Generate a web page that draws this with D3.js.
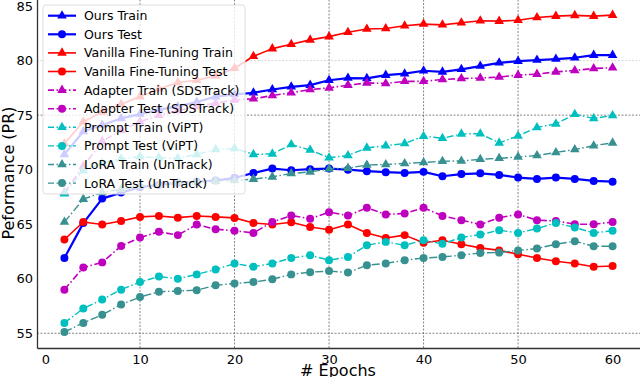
<!DOCTYPE html>
<html>
<head>
<meta charset="utf-8">
<script src="https://cdn.jsdelivr.net/npm/d3@7"></script>
<style>
html,body{margin:0;padding:0;background:#fff;}
svg{display:block;font-family:"DejaVu Sans",sans-serif;}
</style>
</head>
<body>
<svg id="chart" width="640" height="377"></svg>
<script>
const epochs = [2,4,6,8,10,12,14,16,18,20,22,24,26,28,30,32,34,36,38,40,42,44,46,48,50,52,54,56,58,60];
const oursTrain = [71.4,73.5,74.1,74.7,75.1,75.5,75.8,76.2,76.7,76.9,77.05,77.35,77.6,77.75,78.2,78.4,78.37,78.67,78.8,79.07,78.97,79.2,79.5,79.8,79.95,80.05,80.14,80.26,80.5,80.5];
const oursTest = [61.9,65.1,67.35,67.9,68.4,68.6,68.8,68.9,69.0,69.25,69.7,70.1,69.95,70.05,70.1,70.0,69.86,69.77,69.7,69.8,69.4,69.6,69.67,69.52,69.28,69.15,69.28,69.15,68.97,68.9];
const vanillaTrain = [72.4,74.4,75.3,76.0,76.7,77.4,78.0,78.2,78.6,79.3,80.4,81.1,81.5,81.9,82.2,82.6,82.9,82.95,83.2,83.35,83.28,83.47,83.65,83.62,83.7,83.96,84.08,84.15,84.08,84.17];
const vanillaTest = [63.6,65.2,64.97,65.3,65.67,65.76,65.6,65.76,65.67,65.58,65.12,64.97,65.18,64.75,64.5,64.97,64.2,63.74,64.0,63.3,63.53,63.17,62.83,62.6,62.25,61.9,61.6,61.4,61.1,61.17];
const adapterTrain = [67.9,70.3,72.6,73.6,74.4,75.0,75.4,75.8,76.1,76.4,76.5,76.8,77.05,77.35,77.5,77.75,77.96,77.9,78.1,78.1,78.27,78.36,78.4,78.5,78.67,78.76,78.97,79.1,79.28,79.34];
const adapterTest = [59.0,61.03,61.5,63.0,63.78,64.3,64.0,64.97,64.54,64.4,64.2,65.2,65.8,65.5,66.1,65.8,66.5,65.9,65.98,66.5,65.76,65.37,64.97,65.6,65.9,65.37,65.3,65.0,65.0,65.2];
const promptTrain = [67.8,69.9,70.6,71.0,71.2,71.1,71.05,71.4,71.85,71.95,71.4,71.45,72.3,71.8,71.1,71.3,72.0,72.2,72.4,73.07,72.88,73.28,73.3,72.46,73.1,73.87,74.2,75.08,74.7,74.97];
const promptTest = [55.95,57.27,58.1,59.0,59.7,60.2,60.0,60.4,60.84,61.4,61.1,61.4,61.9,62.16,61.7,62.0,63.07,63.38,63.07,63.53,63.2,63.78,64.05,64.45,64.2,64.6,65.12,64.7,64.2,64.4];
const loraTrain = [65.2,67.3,67.9,68.2,68.5,68.6,68.8,68.9,68.95,69.0,69.13,69.34,69.65,69.8,70.07,70.14,70.43,70.48,70.57,70.66,70.78,70.8,70.95,71.04,71.17,71.3,71.58,71.85,72.2,72.46];
const loraTest = [55.12,55.95,56.7,57.63,58.33,58.8,58.88,58.95,59.4,59.56,59.7,59.95,60.4,60.6,60.7,60.57,61.24,61.4,61.7,61.9,62.0,62.16,62.37,62.4,62.6,62.77,63.17,63.44,62.98,62.98];

const seriesNames = ["Ours Train","Ours Test","Vanilla Fine-Tuning Train","Vanilla Fine-Tuning Test","Adapter Train (SDSTrack)","Adapter Test (SDSTrack)","Prompt Train (ViPT)","Prompt Test (ViPT)","LoRA Train (UnTrack)","LoRA Test (UnTrack)"];
const seriesValues = [oursTrain,oursTest,vanillaTrain,vanillaTest,adapterTrain,adapterTest,promptTrain,promptTest,loraTrain,loraTest];
const seriesColors = ["#0000ff","#0000ff","#ff0000","#ff0000","#bf00bf","#bf00bf","#00bfbf","#00bfbf","#379190","#379190"];
const seriesMarkers = ["tri","circle","tri","circle","tri","circle","tri","circle","tri","circle"];
const seriesDash = [null,null,null,null,"7,2.5,1.5,2.5","7,2.5,1.5,2.5","7,2.5,1.5,2.5","7,2.5,1.5,2.5","8,2.5,1.5,2.5","8,2.5,1.5,2.5"];
const seriesWidth = [2.2,2.2,1.6,1.6,1.6,1.6,1.4,1.4,1.4,1.4];

const xTicks = [0,10,20,30,40,50,60];
const yTicks = [55,60,65,70,75,80,85];
const xGrid = [10,20,30,40,50];
const yGrid = [55,75,80];

const svg = d3.select("#chart");
const x = d3.scaleLinear().domain([-0.9, 62.9]).range([37, 640]);
const y = d3.scaleLinear().domain([53.65, 85.65]).range([348, -1]);

// grid
const g = svg.append("g");
g.selectAll(".gx").data(xGrid).join("line")
  .attr("x1", d => x(d)).attr("x2", d => x(d)).attr("y1", 348).attr("y2", 0)
  .attr("stroke", "#666").attr("stroke-width", 0.8).attr("stroke-dasharray", "2,1.5");
g.selectAll(".gy").data(yGrid).join("line")
  .attr("x1", 37).attr("x2", 640).attr("y1", d => y(d)).attr("y2", d => y(d))
  .attr("stroke", d => d === 80 ? "#ccc" : "#666").attr("stroke-width", 0.8).attr("stroke-dasharray", "2,1.5");

// axes
const xAxis = d3.axisBottom(x).tickValues(xTicks).tickSize(0).tickPadding(5);
const yAxis = d3.axisLeft(y).tickValues(yTicks).tickSize(0).tickPadding(4);
const gx = svg.append("g").attr("transform", "translate(0,348)").call(xAxis);
const gy = svg.append("g").attr("transform", "translate(37,0)").call(yAxis);
[gx, gy].forEach(a => {
  a.select(".domain").attr("stroke", "#333").attr("stroke-width", 1.3);
  a.selectAll("text").attr("font-size", 13).attr("fill", "#000").attr("font-family", "DejaVu Sans");
});
gx.selectAll("text").attr("dy", "0.85em");

svg.append("text").attr("x", 338).attr("y", 376).attr("text-anchor", "middle")
  .attr("font-size", 16).text("# Epochs");
svg.append("text").attr("transform", "translate(14,173) rotate(-90)").attr("text-anchor", "middle")
  .attr("font-size", 16).text("Peformance (PR)");

// series
const line = d3.line().x((d, i) => x(epochs[i])).y(d => y(d));
const triSym = d3.symbol().type(d3.symbolTriangle).size(40);
const cirSym = d3.symbol().type(d3.symbolCircle).size(50);

seriesValues.forEach((vals, s) => {
  const sg = svg.append("g");
  sg.append("path").datum(vals).attr("d", line)
    .attr("fill", "none").attr("stroke", seriesColors[s]).attr("stroke-width", seriesWidth[s])
    .attr("stroke-dasharray", seriesDash[s]).attr("stroke-linejoin", "round");
  sg.selectAll("path.m").data(vals).join("path").attr("class", "m")
    .attr("transform", (d, i) => `translate(${x(epochs[i])},${y(d)})`)
    .attr("d", seriesMarkers[s] === "tri" ? triSym() : cirSym())
    .attr("fill", seriesColors[s]);
});

// legend
const lg = svg.append("g");
lg.append("rect").attr("x", 43).attr("y", 5).attr("width", 202).attr("height", 189)
  .attr("rx", 3).attr("fill", "#fff").attr("fill-opacity", 0.8).attr("stroke", "#ddd").attr("stroke-width", 1);
seriesNames.forEach((name, s) => {
  const cy = 15.7 + s * 18.6;
  lg.append("line").attr("x1", 48).attr("x2", 76).attr("y1", cy).attr("y2", cy)
    .attr("stroke", seriesColors[s]).attr("stroke-width", seriesWidth[s])
    .attr("stroke-dasharray", seriesDash[s] ? "6,2.5,1.5,2.5" : null);
  lg.append("path").attr("transform", `translate(62,${cy})`)
    .attr("d", seriesMarkers[s] === "tri" ? triSym() : cirSym()).attr("fill", seriesColors[s]);
  lg.append("text").attr("x", 84).attr("y", cy + 4.5).attr("font-size", 12.5).attr("fill", "#000").text(name);
});
</script>
</body>
</html>
